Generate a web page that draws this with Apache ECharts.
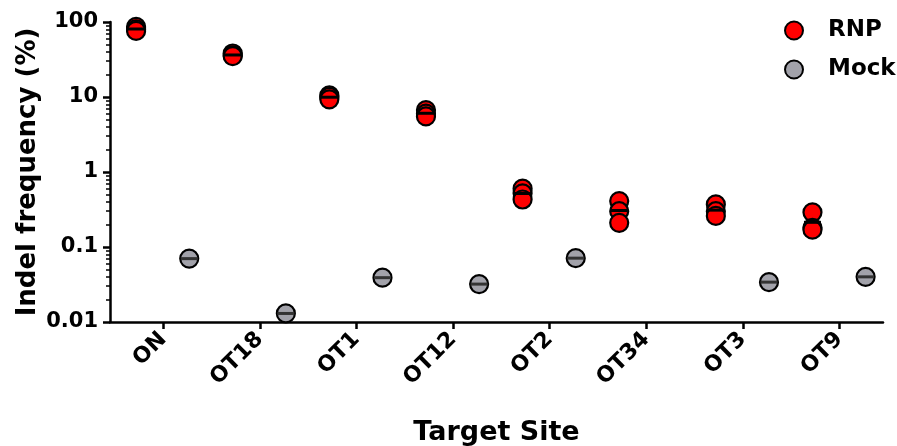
<!DOCTYPE html>
<html>
<head>
<meta charset="utf-8">
<script src="https://cdn.jsdelivr.net/npm/echarts@6/dist/echarts.min.js"></script>
<style>
  html, body { margin: 0; padding: 0; background: #fff; }
  #chart { width: 897px; height: 446px; }
</style>
</head>
<body>
<div id="chart"></div>
<script>
var categories = ['ON', 'OT18', 'OT1', 'OT12', 'OT2', 'OT34', 'OT3', 'OT9'];
// three RNP replicates per site
var rnpRep1 = [86, 38, 10.5, 6.7, 0.60, 0.41, 0.37, 0.29];
var rnpRep2 = [80, 36, 10.0, 6.0, 0.52, 0.30, 0.30, 0.18];
var rnpRep3 = [76, 35, 9.3, 5.5, 0.43, 0.21, 0.26, 0.17];
// mock, no value shown for OT34
var mockValues = [0.070, 0.013, 0.039, 0.032, 0.071, null, 0.034, 0.040];
var yTicks = [0.01, 0.1, 1, 10, 100];

var font = 'DejaVu Sans';
var rnpShift = -0.28, mockShift = 0.27;

var rnpPoints = [], rnpMeans = [], mockPoints = [];
categories.forEach(function (c, i) {
  var reps = [rnpRep1[i], rnpRep2[i], rnpRep3[i]];
  reps.forEach(function (v) { rnpPoints.push([i + rnpShift, v]); });
  rnpMeans.push([i + rnpShift, (reps[0] + reps[1] + reps[2]) / 3]);
  if (mockValues[i] != null) mockPoints.push([i + mockShift, mockValues[i]]);
});

var minorTicks = [];
[0.01, 0.1, 1, 10].forEach(function (d) {
  for (var k = 2; k <= 9; k++) minorTicks.push(+(d * k).toPrecision(2));
});

var chart = echarts.init(document.getElementById('chart'));
chart.setOption({
  animation: false,
  grid: { left: 110, right: 14, top: 22, bottom: 124, outerBoundsMode: 'none' },
  legend: {
    data: ['RNP', 'Mock'],
    orient: 'vertical',
    left: 779, top: 14,
    itemWidth: 18, itemHeight: 18, itemGap: 16,
    textStyle: { fontFamily: font, fontWeight: 'bold', fontSize: 23, color: '#000', padding: [0, 0, 0, 20] }
  },
  xAxis: {
    type: 'value',
    min: -0.55, max: 7.45,
    name: 'Target Site',
    nameLocation: 'middle',
    nameGap: 97,
    nameTextStyle: { fontFamily: font, fontWeight: 'bold', fontSize: 27, color: '#000' },
    axisLine: { onZero: false, lineStyle: { color: '#000', width: 2.5 } },
    axisTick: { customValues: [0, 1, 2, 3, 4, 5, 6, 7], length: 7, lineStyle: { color: '#000', width: 2.5 } },
    axisLabel: {
      customValues: [0, 1, 2, 3, 4, 5, 6, 7],
      rotate: 45, margin: 14,
      fontFamily: font, fontWeight: 'bold', fontSize: 22, color: '#000',
      formatter: function (v) { return categories[Math.round(v)]; }
    },
    splitLine: { show: false }
  },
  yAxis: [{
    type: 'log', logBase: 10, min: 0.01, max: 100,
    name: 'Indel frequency (%)',
    nameLocation: 'middle',
    nameRotate: 90,
    nameGap: 69,
    nameMoveOverlap: false,
    nameTextStyle: { fontFamily: font, fontWeight: 'bold', fontSize: 26, color: '#000' },
    axisLine: { show: true, onZero: false, lineStyle: { color: '#000', width: 2.5 } },
    axisTick: { show: true, customValues: yTicks, length: 7, lineStyle: { color: '#000', width: 2.5 } },
    axisLabel: {
      customValues: yTicks, margin: 12,
      fontFamily: font, fontWeight: 'bold', fontSize: 21, color: '#000',
      formatter: function (v) { return String(v); }
    },
    splitLine: { show: false }
  }, {
    type: 'log', logBase: 10, min: 0.01, max: 100,
    position: 'left',
    axisLine: { show: false, onZero: false },
    axisTick: { show: true, customValues: minorTicks, length: 4, lineStyle: { color: '#000', width: 1.5 } },
    axisLabel: { show: false },
    splitLine: { show: false }
  }],
  series: [{
    name: 'RNP',
    type: 'scatter',
    data: rnpPoints,
    symbol: 'circle', symbolSize: 18,
    itemStyle: { color: '#ff0000', borderColor: '#000', borderWidth: 2.2, opacity: 1 },
    z: 3
  }, {
    name: 'RNP mean',
    type: 'scatter',
    data: rnpMeans,
    symbol: 'rect', symbolSize: [17, 3],
    itemStyle: { color: '#000', opacity: 1 },
    z: 6
  }, {
    name: 'Mock',
    type: 'scatter',
    data: mockPoints,
    symbol: 'circle', symbolSize: 18,
    itemStyle: { color: '#a2a2aa', borderColor: '#000', borderWidth: 2.2, opacity: 1 },
    z: 3
  }, {
    name: 'Mock mean',
    type: 'scatter',
    data: mockPoints,
    symbol: 'rect', symbolSize: [17, 3],
    itemStyle: { color: '#333', opacity: 1 },
    z: 6
  }]
});
</script>
</body>
</html>
